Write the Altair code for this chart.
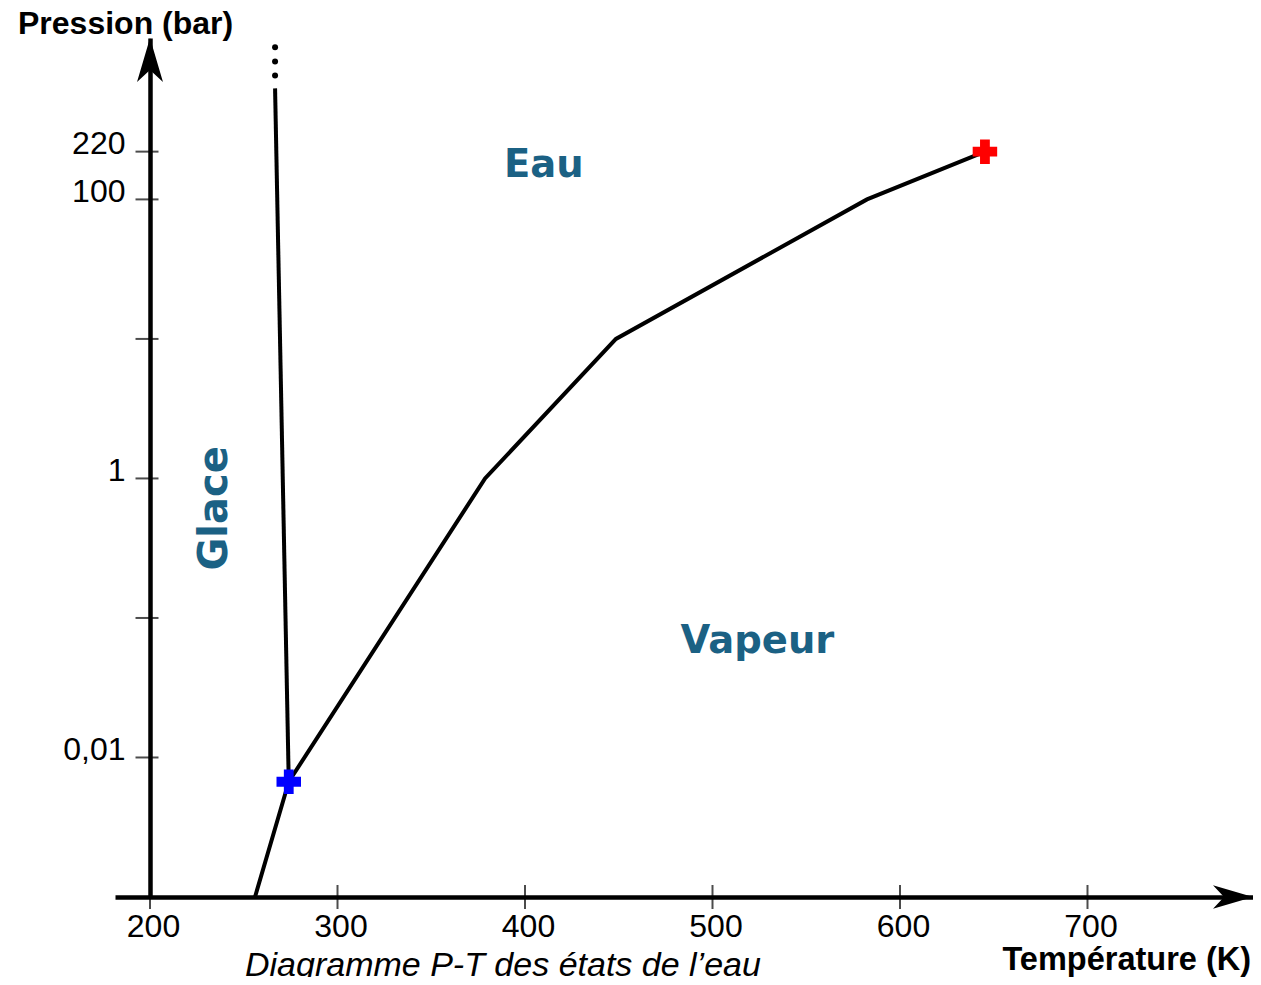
import altair as alt
import pandas as pd

# ---- data ----
vap_T = [256, 274, 378.7, 448.5, 582.4, 645.3]
vap_P = [0.001, 0.0067, 1, 10, 100, 220]
melt_T = [274, 266.7]
melt_P = [0.0067, 625]
dots_T = [266.7, 266.7, 266.7]
dots_P = [774, 975, 1230]
triple_T, triple_P = [274], [0.0067]
crit_T, crit_P = [645.3], [220]
x_ticks = [200, 300, 400, 500, 600, 700]
y_ticks = [0.01, 0.1, 1, 10, 100, 220]
region_names = ["Eau", "Vapeur", "Glace"]
region_T = [410, 524, 234.5]
region_P = [175, 0.068, 0.61]
region_angle = [0, 0, 270]
region_size = [38.5, 38.5, 40]

W, H = 1138, 859
T_MIN, T_MAX = 181.33, 788.27
P_MIN, P_MAX = 0.001, 1435

xs = alt.Scale(domain=[T_MIN, T_MAX], nice=False, zero=False)
ys = alt.Scale(type="log", domain=[P_MIN, P_MAX], nice=False)

x_axis = alt.Axis(values=x_ticks, ticks=False, tickSize=0, grid=False,
                  domainColor="black", domainWidth=4.5, labelPadding=14, labelOffset=3,
                  labelFont="Liberation Sans", labelFontSize=32, labelColor="black",
                  title=None)
y_axis = alt.Axis(values=y_ticks, ticks=False, tickSize=0, grid=False, offset=-35,
                  domainColor="black", domainWidth=4.5, labelPadding=25, labelOffset=-8,
                  labelFont="Liberation Sans", labelFontSize=32, labelColor="black",
                  labelExpr="datum.value == 0.01 ? '0,01' : datum.value == 1 ? '1' : datum.value == 100 ? '100' : datum.value == 220 ? '220' : ''",
                  title=None)

X = alt.X("T:Q", scale=xs, axis=x_axis)
Y = alt.Y("P:Q", scale=ys, axis=y_axis)

vap = pd.DataFrame({"T": vap_T, "P": vap_P, "o": list(range(len(vap_T)))})
melt = pd.DataFrame({"T": melt_T, "P": melt_P, "o": [0, 1]})
dots = pd.DataFrame({"T": dots_T, "P": dots_P})
triple = pd.DataFrame({"T": triple_T, "P": triple_P})
crit = pd.DataFrame({"T": crit_T, "P": crit_P})
xt = pd.DataFrame({"T": x_ticks})
yt = pd.DataFrame({"T": [200] * len(y_ticks), "P": y_ticks})
regions = pd.DataFrame({"name": region_names, "T": region_T, "P": region_P,
                        "a": region_angle, "s": region_size})

line_vap = alt.Chart(vap).mark_line(color="black", strokeWidth=4).encode(x=X, y=Y, order="o:O")
line_melt = alt.Chart(melt).mark_line(color="black", strokeWidth=4).encode(x=X, y=Y, order="o:O")
dot_marks = alt.Chart(dots).mark_circle(color="black", opacity=1, size=36).encode(x=X, y=Y)
tp = alt.Chart(triple).mark_point(shape="cross", filled=True, color="#0000ff", opacity=1, size=600).encode(x=X, y=Y)
cp = alt.Chart(crit).mark_point(shape="cross", filled=True, color="#ff0000", opacity=1, size=600).encode(x=X, y=Y)

xtick_marks = alt.Chart(xt).mark_tick(color="black", thickness=2, size=24, orient="vertical").encode(
    x=X, y=alt.value(H))
ytick_marks = alt.Chart(yt).mark_tick(color="black", thickness=2, size=23, orient="horizontal", xOffset=-3).encode(
    x=X, y=Y)

arrow_up = "M0,0 L0.59,2 L0,1.45 L-0.59,2 Z"
arrow_right = "M0,0 L-2,0.59 L-1.45,0 L-2,-0.59 Z"
head_y = alt.Chart(pd.DataFrame({"T": [200]})).mark_point(
    shape=arrow_up, filled=True, color="black", opacity=1, size=1936, strokeWidth=0).encode(
    x=X, y=alt.value(0))
head_x = alt.Chart(pd.DataFrame({"P": [P_MIN]})).mark_point(
    shape=arrow_right, filled=True, color="black", opacity=1, size=1600, strokeWidth=0).encode(
    x=alt.value(W), y=Y)

region_text = alt.Chart(regions).mark_text(
    font="DejaVu Sans", fontWeight="bold", color="#1b6184",
    align="center", baseline="middle").encode(
    x=X, y=Y, text="name:N", angle=alt.Angle("a:Q", scale=None),
    size=alt.Size("s:Q", scale=None))

title_y = alt.Chart(pd.DataFrame({"t": ["Pression (bar)"]})).mark_text(
    font="Liberation Sans", fontWeight="bold", fontSize=32, color="black",
    align="left", baseline="alphabetic").encode(
    x=alt.value(-97), y=alt.value(-4), text="t:N")
title_x = alt.Chart(pd.DataFrame({"t": ["Température (K)"]})).mark_text(
    font="Liberation Sans", fontWeight="bold", fontSize=32.5, color="black",
    align="right", baseline="alphabetic").encode(
    x=alt.value(W - 2), y=alt.value(932), text="t:N")
caption = alt.Chart(pd.DataFrame({"t": ["Diagramme P-T des états de l’eau"]})).mark_text(
    font="Liberation Sans", fontStyle="italic", fontSize=34, color="black",
    align="left", baseline="alphabetic").encode(
    x=alt.value(130), y=alt.value(938), text="t:N")

chart = alt.layer(
    line_vap, line_melt, dot_marks, xtick_marks, ytick_marks, tp, cp,
    head_y, head_x, region_text, title_y, title_x, caption
).properties(
    width=W, height=H,
    padding={"left": 107, "top": 30, "right": 0, "bottom": 80},
    autosize=alt.AutoSizeParams(type="none"),
).configure_view(stroke=None)

chart.save("out.html", embed_options={"renderer": "svg", "actions": False})
